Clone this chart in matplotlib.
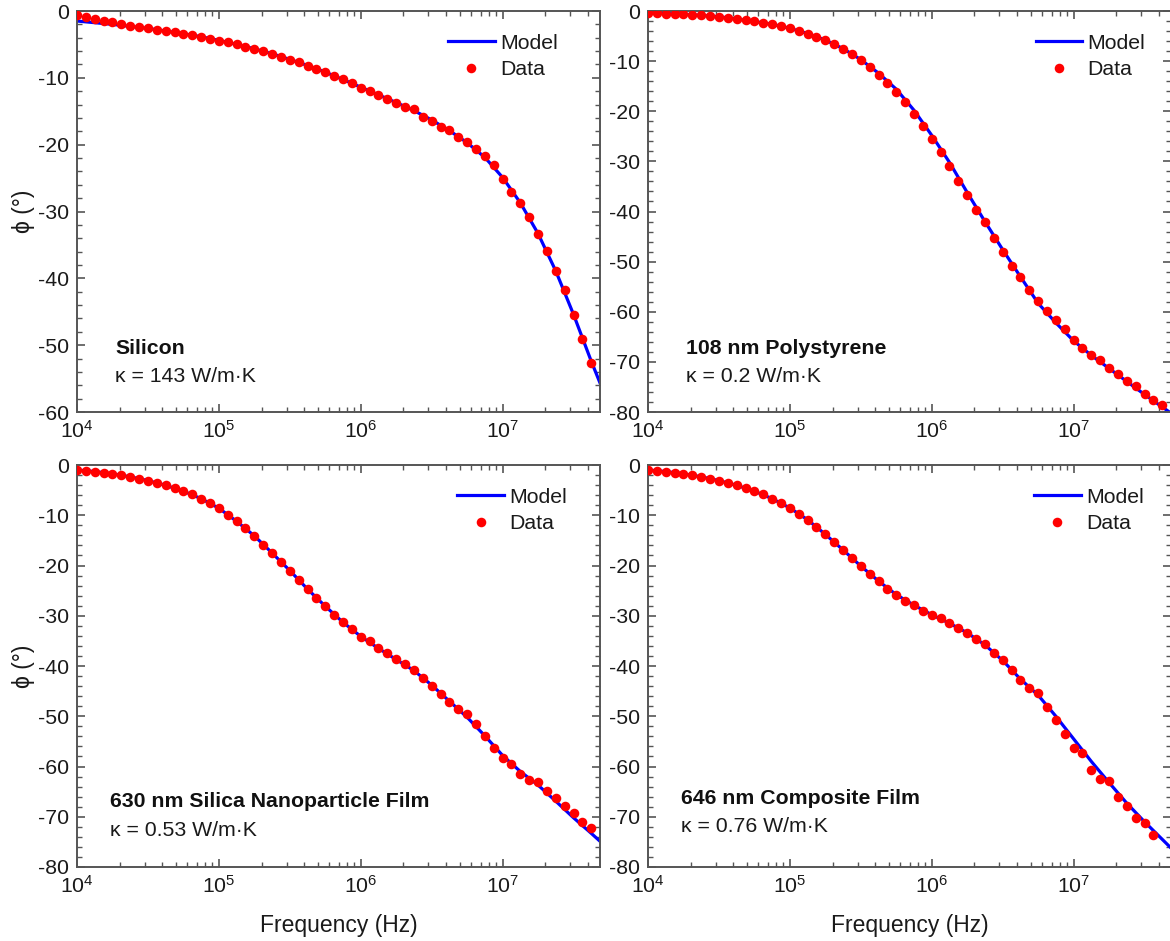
import matplotlib
matplotlib.use("Agg")
import matplotlib.pyplot as plt
from matplotlib.ticker import MultipleLocator, LogLocator, NullFormatter

plt.rcParams['font.family'] = ['Liberation Sans', 'DejaVu Sans']
plt.rcParams['mathtext.fontset'] = 'custom'
plt.rcParams['mathtext.rm'] = 'Liberation Sans'
plt.rcParams['mathtext.it'] = 'Liberation Sans:italic'
plt.rcParams['mathtext.bf'] = 'Liberation Sans:bold'
plt.rcParams['axes.unicode_minus'] = False

# ---- data: measurement frequencies (Hz), 16 per decade ----
freq = [1.000e4, 1.155e4, 1.334e4, 1.540e4, 1.778e4, 2.054e4, 2.371e4, 2.738e4,
        3.162e4, 3.652e4, 4.217e4, 4.870e4, 5.623e4, 6.494e4, 7.499e4, 8.660e4,
        1.000e5, 1.155e5, 1.334e5, 1.540e5, 1.778e5, 2.054e5, 2.371e5, 2.738e5,
        3.162e5, 3.652e5, 4.217e5, 4.870e5, 5.623e5, 6.494e5, 7.499e5, 8.660e5,
        1.000e6, 1.155e6, 1.334e6, 1.540e6, 1.778e6, 2.054e6, 2.371e6, 2.738e6,
        3.162e6, 3.652e6, 4.217e6, 4.870e6, 5.623e6, 6.494e6, 7.499e6, 8.660e6,
        1.000e7, 1.155e7, 1.334e7, 1.540e7, 1.778e7, 2.054e7, 2.371e7, 2.738e7,
        3.162e7, 3.652e7, 4.217e7]

# model evaluation frequencies (Hz), 8 per decade
model_freq = [1.000e4, 1.334e4, 1.778e4, 2.371e4, 3.162e4, 4.217e4, 5.623e4, 7.499e4,
              1.000e5, 1.334e5, 1.778e5, 2.371e5, 3.162e5, 4.217e5, 5.623e5, 7.499e5,
              1.000e6, 1.334e6, 1.778e6, 2.371e6, 3.162e6, 4.217e6, 5.623e6, 7.499e6,
              1.000e7, 1.334e7, 1.778e7, 2.371e7, 3.162e7, 4.217e7, 5.623e7]

si_data = [-0.60, -0.85, -1.25, -1.50, -1.70, -1.94, -2.19, -2.34, -2.54, -2.79,
           -2.99, -3.19, -3.39, -3.64, -3.84, -4.14, -4.43, -4.68, -4.98, -5.33,
           -5.68, -6.03, -6.43, -6.88, -7.27, -7.67, -8.17, -8.67, -9.17, -9.77,
           -10.21, -10.81, -11.46, -11.91, -12.51, -13.15, -13.70, -14.30, -14.65, -15.79,
           -16.44, -17.29, -17.84, -18.83, -19.63, -20.68, -21.72, -23.07, -25.21, -27.10,
           -28.80, -30.79, -33.38, -35.92, -38.96, -41.70, -45.49, -49.13, -52.67]
si_model = [-1.50, -1.75, -2.00, -2.30, -2.60, -3.00, -3.40, -3.85, -4.40, -5.00,
            -5.65, -6.40, -7.25, -8.15, -9.15, -10.25, -11.40, -12.55, -13.70, -14.90,
            -16.30, -17.90, -19.70, -21.90, -24.90, -28.70, -33.30, -38.90, -45.40, -52.40,
            -59.00]

ps_data = [-0.47, -0.47, -0.53, -0.60, -0.66, -0.80, -0.86, -0.93, -1.13, -1.33,
           -1.59, -1.86, -2.06, -2.33, -2.59, -2.99, -3.46, -3.92, -4.52, -5.12,
           -5.85, -6.64, -7.57, -8.64, -9.83, -11.10, -12.69, -14.29, -16.15, -18.20,
           -20.53, -22.86, -25.58, -28.17, -30.96, -33.95, -36.74, -39.67, -42.19, -45.38,
           -48.17, -50.90, -53.09, -55.75, -57.81, -59.80, -61.59, -63.46, -65.71, -67.31,
           -68.57, -69.70, -71.16, -72.49, -73.75, -74.88, -76.48, -77.67, -78.60]
ps_model = [-0.40, -0.50, -0.65, -0.85, -1.15, -1.60, -2.10, -2.65, -3.45, -4.50,
            -5.80, -7.50, -9.70, -12.40, -15.60, -19.80, -24.80, -30.20, -36.20, -42.00,
            -47.60, -53.00, -58.30, -62.20, -65.80, -68.70, -71.30, -73.90, -76.50, -79.00,
            -81.50]

sio2_data = [-1.00, -1.13, -1.33, -1.53, -1.73, -1.99, -2.32, -2.72, -3.12, -3.59,
             -4.05, -4.58, -5.18, -5.84, -6.71, -7.64, -8.63, -9.89, -11.22, -12.62,
             -14.14, -15.87, -17.53, -19.26, -21.05, -22.91, -24.77, -26.56, -28.15, -29.81,
             -31.27, -32.67, -34.20, -35.00, -36.39, -37.38, -38.58, -39.64, -40.84, -42.30,
             -43.96, -45.48, -47.08, -48.47, -49.60, -51.46, -53.85, -56.24, -58.23, -59.50,
             -61.42, -62.68, -63.01, -64.87, -66.33, -67.93, -69.26, -71.12, -72.18]
sio2_model = [-1.00, -1.30, -1.75, -2.35, -3.10, -4.05, -5.20, -6.70, -8.60, -11.20,
              -14.10, -17.50, -21.00, -24.70, -28.10, -31.30, -34.10, -36.50, -38.70, -40.90,
              -43.80, -47.00, -50.20, -53.90, -57.80, -61.00, -63.70, -66.90, -70.20, -73.30,
              -76.50]

comp_data = [-1.00, -1.13, -1.33, -1.53, -1.73, -1.99, -2.32, -2.72, -3.12, -3.59,
             -4.05, -4.58, -5.18, -5.84, -6.71, -7.50, -8.57, -9.69, -10.96, -12.28,
             -13.81, -15.27, -16.93, -18.53, -20.12, -21.71, -23.11, -24.63, -25.90, -27.09,
             -27.89, -29.08, -29.95, -30.35, -31.54, -32.40, -33.40, -34.66, -35.72, -37.32,
             -38.84, -40.70, -42.83, -44.29, -45.29, -48.14, -50.66, -53.45, -56.24, -57.24,
             -60.62, -62.42, -62.88, -66.07, -67.86, -70.19, -71.18, -73.71]
comp_model = [-1.00, -1.30, -1.75, -2.35, -3.10, -4.05, -5.20, -6.70, -8.55, -10.90,
              -13.80, -16.90, -20.10, -23.10, -25.80, -27.90, -29.80, -31.50, -33.40, -35.80,
              -38.90, -42.60, -45.80, -50.00, -54.50, -59.00, -63.20, -67.30, -71.00, -74.50,
              -78.00]

titles = ['Silicon', '108 nm Polystyrene', '630 nm Silica Nanoparticle Film', '646 nm Composite Film']
kappas = ['κ = 143 W/m·K', 'κ = 0.2 W/m·K', 'κ = 0.53 W/m·K', 'κ = 0.76 W/m·K']
ymins = [-60, -80, -80, -80]

datas = [si_data, ps_data, sio2_data, comp_data]
models = [si_model, ps_model, sio2_model, comp_model]

W, H = 1170, 941
fig = plt.figure(figsize=(W / 100, H / 100), dpi=100)

# panel rectangles in pixels: (left, top, right, bottom)
rects = [(77, 11, 600, 412), (648, 11, 1171, 412),
         (77, 465, 600, 867), (648, 465, 1171, 867)]
# text placement (axes fraction): x, title y, kappa y
txt_pos = [(0.073, 0.158, 0.088), (0.072, 0.158, 0.088),
           (0.063, 0.162, 0.092), (0.0625, 0.170, 0.101)]
# legend anchor (axes fraction): x of line start, y of top
leg_pos = [(0.709, 0.943), (0.741, 0.943), (0.727, 0.943), (0.738, 0.943)]

FS = 15.3
spine_col = '#555555'
txt_col = '#1a1a1a'
for i in range(4):
    l, t, r, b = rects[i]
    ax = fig.add_axes([l / W, 1 - b / H, (r - l) / W, (b - t) / H])
    ax.plot(model_freq, models[i], color='#0000ff', lw=2.3, label='Model', zorder=2)
    ax.plot(freq[:len(datas[i])], datas[i], 'o', color='#ff0000', ms=6.9, mec='none',
            label='Data', zorder=3)
    ax.set_xscale('log')
    ax.set_xlim(1e4, 4.86e7)
    ax.set_ylim(ymins[i], 0)
    ax.yaxis.set_major_locator(MultipleLocator(10))
    ax.yaxis.set_minor_locator(MultipleLocator(2))
    ax.xaxis.set_major_locator(LogLocator(base=10, numticks=10))
    ax.xaxis.set_minor_locator(LogLocator(base=10, subs=range(2, 10), numticks=20))
    ax.xaxis.set_minor_formatter(NullFormatter())
    ax.tick_params(which='both', direction='in', top=True, right=True,
                   color=spine_col, labelsize=FS, labelcolor=txt_col)
    ax.tick_params(which='major', length=6, width=1.2, pad=6)
    ax.tick_params(which='minor', length=3.5, width=1.0)
    for s in ax.spines.values():
        s.set_color(spine_col)
        s.set_linewidth(1.4)
    lx, ly = leg_pos[i]
    leg = ax.legend(loc='upper left', frameon=False, fontsize=FS,
                    handlelength=2.2, handletextpad=0.25, labelspacing=0.35,
                    borderpad=0, borderaxespad=0, bbox_to_anchor=(lx, ly))
    for txt in leg.get_texts():
        txt.set_color(txt_col)
    x0, yt, yk = txt_pos[i]
    ax.text(x0, yt, titles[i], transform=ax.transAxes, fontsize=FS,
            fontweight='bold', va='center', ha='left', color='#111111')
    ax.text(x0, yk, kappas[i], transform=ax.transAxes, fontsize=FS,
            va='center', ha='left', color=txt_col)
    if i in (0, 2):
        ax.set_ylabel('ϕ (°)', fontsize=16.5, color=txt_col, labelpad=2)
    if i in (2, 3):
        ax.set_xlabel('Frequency (Hz)', fontsize=16.5, color=txt_col, labelpad=12)

fig.savefig('out.png', dpi=100)
